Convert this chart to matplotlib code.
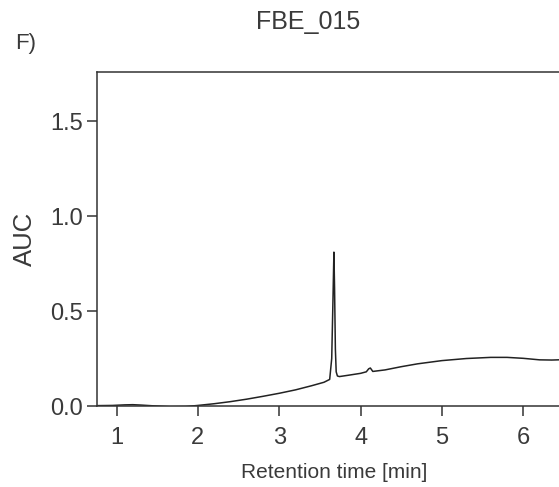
import matplotlib.pyplot as plt

plt.rcParams['font.family'] = ['Liberation Sans', 'DejaVu Sans']

# chromatogram
time_min = [0.76, 0.95, 1.10, 1.20, 1.30, 1.45, 1.65, 1.85, 2.00, 2.20, 2.40,
            2.60, 2.80, 3.00, 3.20, 3.40, 3.55, 3.62, 3.645, 3.66, 3.672,
            3.68, 3.69, 3.70, 3.715, 3.74, 3.85, 4.00, 4.07, 4.10, 4.12,
            4.15, 4.30, 4.50, 4.70, 5.00, 5.30, 5.60, 5.80, 6.00, 6.20,
            6.35, 6.50]
auc = [0.002, 0.003, 0.006, 0.007, 0.005, 0.001, -0.004, -0.003, 0.003,
       0.012, 0.023, 0.036, 0.051, 0.067, 0.085, 0.107, 0.125, 0.14, 0.25,
       0.55, 0.81, 0.62, 0.30, 0.18, 0.158, 0.155, 0.162, 0.172, 0.18,
       0.196, 0.20, 0.182, 0.19, 0.207, 0.222, 0.239, 0.250, 0.256, 0.256,
       0.251, 0.243, 0.242, 0.244]

x_ticks = [1, 2, 3, 4, 5, 6]
y_ticks = [0.0, 0.5, 1.0, 1.5]

txt = '#3a3a3a'

fig = plt.figure(figsize=(5.59, 4.87), dpi=100)
ax = fig.add_axes([0.1735, 0.1663, 0.85, 0.6858])

ax.plot(time_min, auc, color='#222222', lw=1.1)

ax.set_xlim(0.76, 6.6)
ax.set_ylim(0, 1.758)
ax.set_xticks(x_ticks)
ax.set_yticks(y_ticks)
ax.set_yticklabels([f'{v:.1f}' for v in y_ticks])

for s in ax.spines.values():
    s.set_linewidth(1.1)
    s.set_color('#333333')
ax.spines['right'].set_visible(False)

ax.tick_params(direction='out', length=7, width=1.1, color='#333333',
               labelsize=17, labelcolor=txt)
ax.tick_params(axis='x', pad=8)
ax.tick_params(axis='y', pad=3)
ax.set_xlabel('Retention time [min]', fontsize=15, color=txt, labelpad=10)
ax.set_ylabel('AUC', fontsize=18.5, color=txt, labelpad=10)

fig.text(308 / 559, 1 - 22 / 487, 'FBE_015', fontsize=18, color=txt,
         ha='center', va='center')
fig.text(15 / 559, 1 - 43 / 487, 'F)', fontsize=16, color=txt,
         ha='left', va='center')

fig.savefig('out.png', dpi=100)
